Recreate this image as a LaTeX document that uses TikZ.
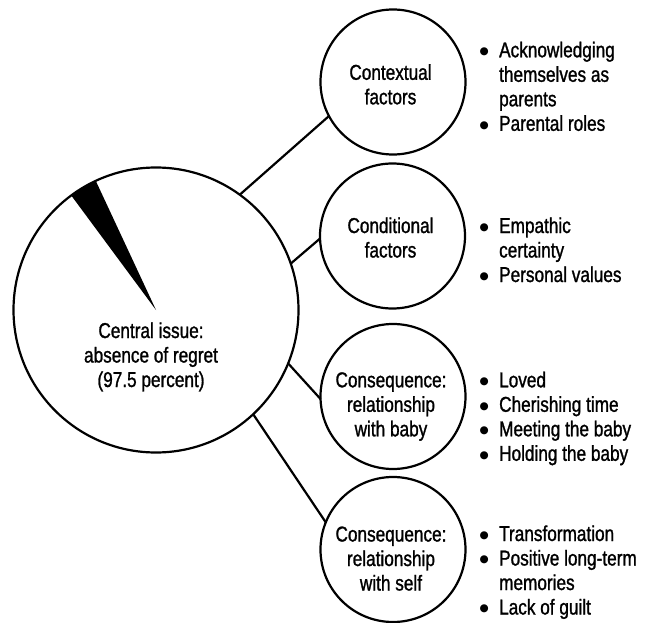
\documentclass[tikz,border=0pt]{standalone}
\usepackage{fontspec}
\setmainfont[FakeStretch=0.8,FakeBold=1.2]{Liberation Sans}
\newfontfamily\symfont{DejaVu Sans}
\newcommand{\bul}{\raisebox{2.6pt}{\symfont\fontsize{10.5}{10.5}\selectfont ●}}
\begin{document}
\begin{tikzpicture}[x=1pt,y=1pt,
  every node/.style={inner sep=0pt, outer sep=0pt},
  ring/.style={circle, draw, line width=2.2pt},
  bigring/.style={ring, minimum size=285pt},
  smallring/.style={ring, minimum size=145pt},
  link/.style={line width=2.2pt},
  lbl/.style={anchor=base, font=\fontsize{21.5}{24.5}\selectfont},
  blist/.style={anchor=base west, font=\fontsize{21.5}{24.5}\selectfont}
]
\useasboundingbox (0,0) rectangle (648,-623);

% circles
\node[bigring] (big) at (156,-310) {};
\node[smallring] (c1) at (393,-82) {};
\node[smallring] (c2) at (392.5,-236) {};
\node[smallring] (c3) at (393,-396.5) {};
\node[smallring] (c4) at (393,-549.5) {};

% wedge (2.5 percent)
\fill (big.center) -- ++(115:142pt) arc[start angle=115, end angle=126.5, radius=142pt] -- cycle;

% connectors
\draw[link] (big.54.6) -- (c1.208.3);
\draw[link] (big.19.7) -- (c2.182.4);
\draw[link] (big.-22.2) -- (c3.182.8);
\draw[link] (big.-47.5) -- (c4.158.4);

% circle texts
\node[lbl] (t0) at (151,-338) {\begin{tabular}[t]{@{}c@{}}Central issue:\\absence of regret\\(97.5 percent)\end{tabular}};
\node[lbl] (t1) at (390.5,-79.8) {\begin{tabular}[t]{@{}c@{}}Contextual\\factors\end{tabular}};
\node[lbl] (t2) at (390.5,-233) {\begin{tabular}[t]{@{}c@{}}Conditional\\factors\end{tabular}};
\node[lbl] (t3) at (391,-387.3) {\begin{tabular}[t]{@{}c@{}}Consequence:\\relationship\\with baby\end{tabular}};
\node[lbl] (t4) at (391,-541.5) {\begin{tabular}[t]{@{}c@{}}Consequence:\\relationship\\with self\end{tabular}};

% bullet lists
\node[blist] (b1) at (479.5,-57.3) {\begin{tabular}[t]{@{}l@{\hspace{10.5pt}}l@{}}\bul & Acknowledging\\ & themselves as\\ & parents\\ \bul & Parental roles\end{tabular}};
\node[blist] (b2) at (479.5,-233) {\begin{tabular}[t]{@{}l@{\hspace{10.5pt}}l@{}}\bul & Empathic\\ & certainty\\ \bul & Personal values\end{tabular}};
\node[blist] (b3) at (479.5,-387.3) {\begin{tabular}[t]{@{}l@{\hspace{10.5pt}}l@{}}\bul & Loved\\ \bul & Cherishing time\\ \bul & Meeting the baby\\ \bul & Holding the baby\end{tabular}};
\node[blist] (b4) at (479.5,-541) {\begin{tabular}[t]{@{}l@{\hspace{10.5pt}}l@{}}\bul & Transformation\\ \bul & Positive long-term\\ & memories\\ \bul & Lack of guilt\end{tabular}};
\end{tikzpicture}
\end{document}
